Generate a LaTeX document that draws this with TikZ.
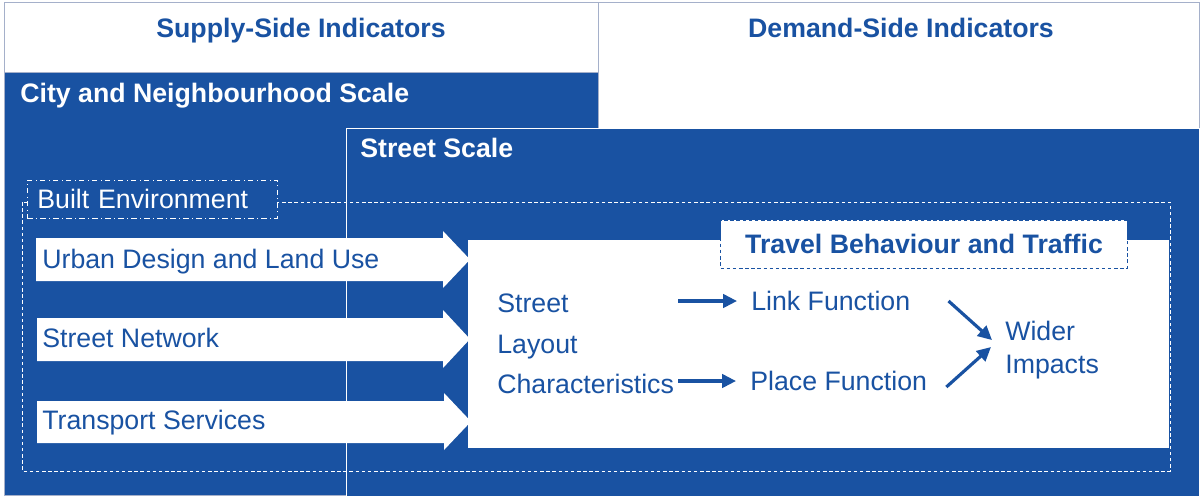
\documentclass[tikz,border=0pt]{standalone}
\usepackage{fontspec}
\setmainfont{Liberation Sans}
\usepackage{tikz}
\usetikzlibrary{arrows.meta, calc}
\definecolor{scaleblue}{RGB}{25,82,162}
\definecolor{framegray}{RGB}{165,176,202}

\begin{document}
\begin{tikzpicture}[x = 0.02cm, y = -0.02cm,
		txt/.style = {font = \fontsize{15.2}{18.7}\selectfont, inner sep = 0pt, text = scaleblue},
		title/.style = {txt, font = \fontsize{15.2}{18.7}\selectfont\bfseries},
		flow/.style = {draw = scaleblue, line width = 1.8pt, -{Triangle[length = 0.28cm, width = 0.27cm]}},
		finedash/.style = {dash pattern = on 2pt off 1.5pt}]
	\useasboundingbox (0,0) rectangle (1201,495);
	% indicator headers
	\draw[framegray, fill = white] (4,2) rectangle (598,72);
	\draw[framegray, fill = white] (598,2) rectangle (1199.5,128);
	\node[title] (supply) at (301,31) {Supply-Side Indicators};
	\node[title] (demand) at (901,28) {Demand-Side Indicators};
	% scales
	\draw[framegray, fill = scaleblue] (4,72) rectangle (598,495);
	\node[title, text = white, anchor = west] (city) at (20,96) {City and Neighbourhood Scale};
	\draw[white, fill = scaleblue] (346,128) rectangle (1199.5,496);
	\node[title, text = white, anchor = west] (streetscale) at (360,148) {Street Scale};
	% built environment
	\draw[white, finedash, thin] (22,202) rectangle (1170,471);
	\node[txt, text = white, draw = white, dash dot, thin, fill = scaleblue, anchor = west, inner xsep = 0.2cm, text width = 4.6cm, minimum height = 0.76cm] (builtenv) at (27,199) {Built Environment};
	\fill[white] (36,238) -- (443,238) -- (443,231) -- (470,259.5) -- (443,288) -- (443,281) -- (36,281) -- cycle;
	\fill[white] (37,318) -- (443,318) -- (443,310) -- (470,339) -- (443,368) -- (443,361) -- (37,361) -- cycle;
	\fill[white] (37,401) -- (444,401) -- (444,393) -- (471,421.5) -- (444,450) -- (444,443) -- (37,443) -- cycle;
	\node[txt, anchor = west] (landuse) at (42,262) {Urban Design and Land Use};
	\node[txt, anchor = west] (network) at (42,338) {Street Network};
	\node[txt, anchor = west] (transport) at (42,423) {Transport Services};
	% travel behaviour panel
	\fill[white] (468,240) rectangle (1169,448);
	\node[title, draw = scaleblue, finedash, thin, fill = white, minimum width = 8.14cm, minimum height = 0.96cm] (travel) at (924,244) {Travel Behaviour and Traffic};
	\node[txt, anchor = west] (street) at (497,303) {Street};
	\node[txt, anchor = west] (layout) at (497,347) {Layout};
	\node[txt, anchor = west] (chars) at (497,384) {Characteristics};
	\node[txt, anchor = west] (link) at (751,301) {Link Function};
	\node[txt, anchor = west] (place) at (750,381) {Place Function};
	\node[txt, anchor = west, align = left] (wider) at (1005,350) {Wider\\Impacts};
	\draw[flow] ([xshift = 0.08cm] chars.east |- link.west) -- ([xshift = -0.28cm] link.west);
	\draw[flow] ([xshift = 0.08cm] chars.east |- place.west) -- ([xshift = -0.28cm] place.west);
	\draw[flow] ([xshift = 0.76cm] link.east) -- ([xshift = -0.26cm, yshift = 0.2cm] wider.west);
	\draw[flow] ([xshift = 0.38cm, yshift = -0.12cm] place.east) -- ([xshift = -0.28cm, yshift = 0.06cm] wider.west);
\end{tikzpicture}
\end{document}
